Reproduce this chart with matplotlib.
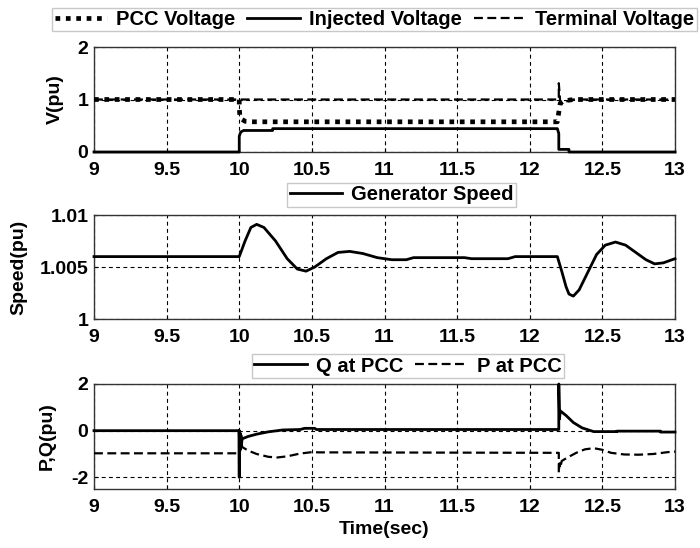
import matplotlib
matplotlib.use("Agg")
import matplotlib.pyplot as plt

plt.rcParams['font.family'] = ['Liberation Sans', 'DejaVu Sans']
plt.rcParams['font.weight'] = 'bold'
plt.rcParams['axes.unicode_minus'] = False

# ---- data ----
pcc_t = [9.0, 10.0, 10.0, 10.005, 10.02, 10.04, 10.1, 12.19, 12.2, 12.21, 12.23, 12.3, 13.0]
pcc_v = [1.0, 1.0, 0.85, 0.66, 0.62, 0.585, 0.575, 0.575, 0.76, 0.93, 0.97, 1.0, 1.0]

inj_t = [9.0, 10.0, 10.0, 10.01, 10.03, 10.23, 10.23, 12.19, 12.2, 12.2, 12.27, 12.27, 13.0]
inj_v = [0.0, 0.0, 0.3, 0.38, 0.41, 0.41, 0.445, 0.445, 0.35, 0.05, 0.05, 0.0, 0.0]

term_t = [9.0, 12.195, 12.2, 12.2, 12.21, 12.25, 12.3, 13.0]
term_v = [1.0, 1.0, 1.0, 1.31, 0.94, 0.96, 1.0, 1.0]

spd_t = [9.0, 10.0, 10.04, 10.08, 10.12, 10.17, 10.25, 10.33, 10.40, 10.46, 10.52, 10.6,
         10.68, 10.76, 10.85, 10.95, 11.05, 11.15, 11.2, 11.55, 11.6, 11.85, 11.9, 12.19,
         12.22, 12.25, 12.27, 12.30, 12.34, 12.4, 12.46, 12.52, 12.59, 12.66, 12.73, 12.8,
         12.86, 12.92, 13.0]
spd_v = [1.006, 1.006, 1.0075, 1.0088, 1.0091, 1.0088, 1.0075, 1.0058, 1.0048, 1.0046, 1.005,
         1.0058, 1.0064, 1.0065, 1.0063, 1.0059, 1.0057, 1.0057, 1.0059, 1.0059, 1.0058,
         1.0058, 1.006, 1.006, 1.0046, 1.0031, 1.0024, 1.0022, 1.0028, 1.0045, 1.0062,
         1.0071, 1.0074, 1.0071, 1.0064, 1.0057, 1.0053, 1.0054, 1.0058]

q_t = [9.0, 9.999, 10.0, 10.0, 10.003, 10.006, 10.009, 10.012, 10.015, 10.02, 10.06, 10.12,
       10.2, 10.3, 10.42, 10.45, 10.52, 10.53, 12.195, 12.2, 12.2, 12.205, 12.21, 12.25,
       12.3, 12.36, 12.44, 12.6, 12.6, 12.9, 12.9, 13.0]
q_v = [0.0, 0.0, -2.0, 0.0, -0.9, -0.1, -0.8, -0.2, -0.6, -0.35, -0.25, -0.15, -0.05, 0.03,
       0.05, 0.1, 0.1, 0.05, 0.05, 0.05, 2.0, 0.5, 0.85, 0.65, 0.35, 0.12, -0.04, -0.04,
       -0.02, -0.02, -0.06, -0.06]

p_t = [9.0, 10.0, 10.0, 10.003, 10.006, 10.01, 10.015, 10.02, 10.06, 10.12, 10.2, 10.26,
       10.33, 10.42, 10.5, 10.55, 12.195, 12.2, 12.2, 12.205, 12.21, 12.22, 12.26, 12.32,
       12.38, 12.44, 12.5, 12.56, 12.65, 12.75, 12.85, 12.95, 13.0]
p_v = [-0.97, -0.97, -0.3, -0.9, -0.2, -0.8, -0.5, -0.7, -0.85, -1.0, -1.12, -1.15, -1.1,
       -0.98, -0.92, -0.93, -0.95, -0.95, -1.8, -1.4, -1.6, -1.3, -1.15, -0.95, -0.8, -0.75,
       -0.82, -0.95, -1.02, -1.03, -1.0, -0.92, -0.9]

x_ticks = [9, 9.5, 10, 10.5, 11, 11.5, 12, 12.5, 13]
x_labels = ['9', '9.5', '10', '10.5', '11', '11.5', '12', '12.5', '13']

FS = 14
LFS = 14.5
fig = plt.figure(figsize=(7.0, 5.48), dpi=100)
W, H = 700.0, 548.0
L, R = 94, 675


def make_ax(top, bottom):
    return fig.add_axes([L / W, 1 - bottom / H, (R - L) / W, (bottom - top) / H])


def style(ax, yticks, ylabels, ylim, ylabel, label_x):
    ax.set_xlim(9, 13)
    ax.set_ylim(*ylim)
    ax.set_xticks(x_ticks)
    ax.set_xticklabels(x_labels, fontsize=FS, fontweight='bold')
    ax.set_yticks(yticks)
    ax.set_yticklabels(ylabels, fontsize=FS, fontweight='bold')
    ax.grid(True, color='black', linestyle=(0, (3.5, 3)), linewidth=0.8)
    ax.tick_params(axis='x', direction='in', length=3, pad=7, width=0.8)
    ax.tick_params(axis='y', direction='in', length=3, pad=4, width=0.8)
    for s in ax.spines.values():
        s.set_linewidth(1.0)
        s.set_color('#333333')
    ax.set_ylabel(ylabel, fontsize=FS, fontweight='bold')
    ax.yaxis.set_label_coords((label_x - L) / (R - L), 0.5)


def legend(ax, cx, cy, ncol):
    lg = ax.legend(loc='center', bbox_to_anchor=(cx / W, 1 - cy / H),
                   bbox_transform=fig.transFigure, ncol=ncol, fancybox=False,
                   framealpha=1, edgecolor='#c8c8c8', fontsize=LFS,
                   handlelength=2.6, handletextpad=0.45, columnspacing=0.6,
                   borderpad=0.12, borderaxespad=0)
    lg.get_frame().set_linewidth(1.0)
    for t in lg.get_texts():
        t.set_fontweight('bold')


# ---- top ----
ax1 = make_ax(47, 152)
ax1.plot(pcc_t, pcc_v, color='black', lw=3.4, linestyle=(0, (1, 1.2)),
         dash_capstyle='butt', label='PCC Voltage', clip_on=False, zorder=3)
ax1.plot(inj_t, inj_v, color='black', lw=2.0, label='Injected Voltage', clip_on=False, zorder=4)
ax1.plot(term_t, term_v, color='black', lw=1.6, linestyle=(0, (4, 2)),
         label='Terminal Voltage', clip_on=False, zorder=3)
style(ax1, [0, 1, 2], ['0', '1', '2'], (0, 2), 'V(pu)', 64)
legend(ax1, 374.5, 19.5, 3)

# ---- middle ----
ax2 = make_ax(215, 319)
ax2.plot(spd_t, spd_v, color='black', lw=2.0, label='Generator Speed', clip_on=False, zorder=3)
style(ax2, [1.0, 1.005, 1.01], ['1', '1.005', '1.01'], (1.0, 1.01), 'Speed(pu)', 27)
legend(ax2, 401.5, 195, 1)

# ---- bottom ----
ax3 = make_ax(384, 489)
ax3.plot(q_t, q_v, color='black', lw=2.0, label='Q at PCC', clip_on=False, zorder=4)
ax3.plot(p_t, p_v, color='black', lw=1.6, linestyle=(0, (4, 2)), label='P at PCC',
         clip_on=False, zorder=3)
style(ax3, [-2, 0, 2], ['-2', '0', '2'], (-2.5, 2), 'P,Q(pu)', 56)
ax3.set_xlabel('Time(sec)', fontsize=FS, fontweight='bold', labelpad=4)
legend(ax3, 408, 366, 2)

fig.savefig('out.png', dpi=100, facecolor='white')
